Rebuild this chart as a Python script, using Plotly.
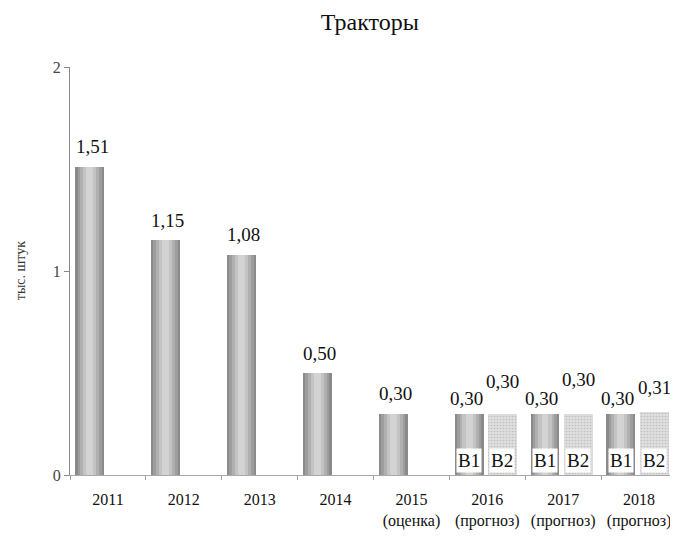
import plotly.graph_objects as go

# ---- data ----
years = ["2011", "2012", "2013", "2014", "2015", "2016", "2017", "2018"]
sub_labels = ["", "", "", "", "(оценка)", "(прогноз)", "(прогноз)", "(прогноз)"]
single_years = ["2011", "2012", "2013", "2014", "2015"]
single_vals = [1.51, 1.15, 1.08, 0.50, 0.30]
forecast_years = ["2016", "2017", "2018"]
b1_vals = [0.30, 0.30, 0.30]
b2_vals = [0.30, 0.30, 0.31]
series_names = ["B1", "B2"]
y_ticks = [0, 1, 2]

# ---- style ----
FONT = "Liberation Serif, Times New Roman, serif"
idx = {y: i for i, y in enumerate(years)}
xs_single = [idx[y] for y in single_years]
xs_fc = [idx[y] for y in forecast_years]
b1_off, b2_off = -0.24, 0.20
bar_w = 0.38
b2_label_lift = [14, 16, 6]

def fmt(v):
    return f"{v:.2f}".replace(".", ",")

fig = go.Figure()

cyl_layers = [(1.0, "#8a8a8a"), (0.84, "#9d9d9d"), (0.66, "#b0b0b0"), (0.46, "#c3c3c3"), (0.24, "#d3d3d3")]

def cyl(xvals, yvals, offset):
    xv = [x + offset for x in xvals]
    for frac, col in cyl_layers:
        fig.add_trace(go.Bar(x=xv, y=yvals, width=bar_w * frac,
                             marker=dict(color=col, line=dict(width=0)),
                             showlegend=False, hoverinfo="skip"))

cyl(xs_single, single_vals, b1_off)
cyl(xs_fc, b1_vals, b1_off)
fig.add_trace(go.Bar(x=[x + b2_off for x in xs_fc], y=b2_vals, width=bar_w,
                     marker=dict(color="#dadada", line=dict(width=0),
                                 pattern=dict(shape=".", fgcolor="#a0a0a0", bgcolor="#dedede",
                                              size=3, solidity=0.25)),
                     showlegend=False, hoverinfo="skip"))

fig.update_layout(barmode="overlay", bargap=0)

lab_font = dict(family=FONT, size=19, color="#111")
ann = []
for x, v in zip(xs_single, single_vals):
    ann.append(dict(x=x + b1_off + 0.03, y=v, text=fmt(v), showarrow=False, yanchor="middle", yshift=20,
                    font=lab_font))
for x, v1, v2, lift in zip(xs_fc, b1_vals, b2_vals, b2_label_lift):
    ann.append(dict(x=x + b1_off - 0.04, y=v1, text=fmt(v1), showarrow=False, yanchor="middle", yshift=15,
                    font=lab_font))
    ann.append(dict(x=x + b2_off, y=v2, text=fmt(v2), showarrow=False, yanchor="middle", yshift=18 + lift,
                    font=lab_font))
    ann.append(dict(x=x + b1_off, y=0, text=series_names[0], showarrow=False, yanchor="middle", yshift=15,
                    bgcolor="white", borderpad=1, font=lab_font))
    ann.append(dict(x=x + b2_off, y=0, text=series_names[1], showarrow=False, yanchor="middle", yshift=15,
                    bgcolor="white", borderpad=1, font=lab_font))

ann.append(dict(xref="paper", yref="paper", x=-0.082, y=0.5, text="тыс. штук", textangle=-90,
                showarrow=False, xanchor="center", yanchor="middle",
                font=dict(family=FONT, size=14, color="#333")))

ticktext = [y if not s else f"{y}<br>{s}" for y, s in zip(years, sub_labels)]

fig.update_layout(
    width=670, height=528,
    paper_bgcolor="white", plot_bgcolor="white",
    margin=dict(l=62, r=1, t=59, b=61),
    title=dict(text="Тракторы", x=0.540, xanchor="center", y=0.975, yanchor="middle",
               font=dict(family=FONT, size=24, color="#111")),
    annotations=ann,
    xaxis=dict(range=[-0.5, 7.5], tickmode="array", tickvals=list(range(len(years))), ticktext=ticktext,
               ticks="", ticklabelstandoff=10, showgrid=False, zeroline=False, showline=True,
               linecolor="#a8a8a8", linewidth=1,
               automargin=False, tickfont=dict(family=FONT, size=16, color="#111"),
               minor=dict(tick0=0.5, dtick=1, ticks="outside", ticklen=4, tickcolor="#a0a0a0",
                          showgrid=False)),
    yaxis=dict(range=[0, 2], tickvals=y_ticks, ticktext=[str(t) for t in y_ticks], ticks="outside",
               ticklen=5, tickcolor="#888", showgrid=False, zeroline=False, showline=True,
               linecolor="#8a8a8a", linewidth=1, automargin=False,
               tickfont=dict(family=FONT, size=16, color="#444")),
)

fig.write_html("out.html")
